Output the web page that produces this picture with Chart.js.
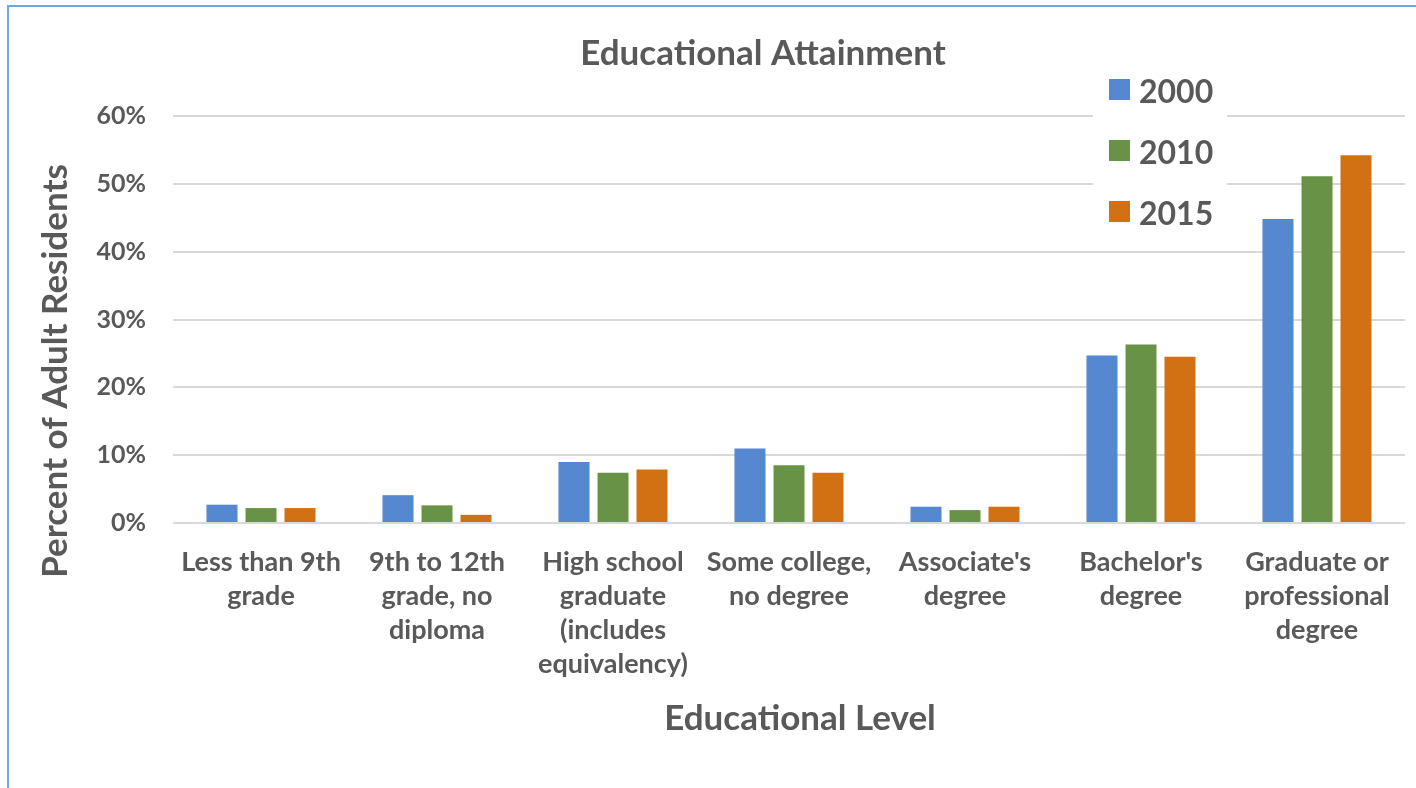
<!DOCTYPE html>
<html>
<head>
<meta charset="utf-8">
<script src="https://cdn.jsdelivr.net/npm/chart.js@4/dist/chart.umd.min.js"></script>
<style>
  html, body { margin: 0; padding: 0; background: #fff; }
  #grafico { display: block; }
</style>
</head>
<body>
<canvas id="grafico" width="1416" height="788"></canvas>
<script>
// categorias y valores (% de residentes adultos)
const niveles = [
    ["Less than 9th", "grade"],
    ["9th to 12th", "grade, no", "diploma"],
    ["High school", "graduate", "(includes", "equivalency)"],
    ["Some college,", "no degree"],
    ["Associate's", "degree"],
    ["Bachelor's", "degree"],
    ["Graduate or", "professional", "degree"]
];
const anios = ["2000", "2010", "2015"];
const valores2000 = [2.7, 4.1, 9.0, 11.0, 2.4, 24.7, 44.8];
const valores2010 = [2.2, 2.6, 7.4, 8.5, 1.9, 26.3, 51.1];
const valores2015 = [2.2, 1.2, 7.9, 7.4, 2.4, 24.5, 54.2];
const ticksY = [0, 10, 20, 30, 40, 50, 60];

const titulo = "Educational Attainment";
const tituloX = "Educational Level";
const tituloY = "Percent of Adult Residents";

const colores = ["#5588d1", "#689245", "#d27014"];
const gris = "#595959";
const fuente = "Lato, 'Open Sans', sans-serif";

// fondo y borde del marco
const marco = {
    id: "marco",
    beforeDraw(chart) {
        const ctx = chart.ctx;
        ctx.save();
        ctx.fillStyle = "#fff";
        ctx.fillRect(0, 0, chart.width, chart.height);
        ctx.strokeStyle = "#6fa8dc";
        ctx.lineWidth = 2;
        ctx.beginPath();
        ctx.moveTo(8, chart.height);
        ctx.lineTo(8, 6);
        ctx.lineTo(chart.width, 6);
        ctx.stroke();
        ctx.restore();
    }
};

// titulos (posicion como en el original, no centrados en el area)
const titulos = {
    id: "titulos",
    afterDraw(chart) {
        const ctx = chart.ctx;
        ctx.save();
        ctx.fillStyle = gris;
        ctx.textAlign = "center";
        ctx.textBaseline = "middle";
        ctx.font = "bold 35px " + fuente;
        ctx.fillText(titulo, 763, 54);
        ctx.fillText(tituloX, 800, 719);
        ctx.translate(56, 371);
        ctx.rotate(-Math.PI / 2);
        ctx.fillText(tituloY, 0, 0);
        ctx.restore();
    }
};

// leyenda dentro del area del grafico
const leyenda = {
    id: "leyenda",
    afterDraw(chart) {
        const ctx = chart.ctx;
        ctx.save();
        ctx.fillStyle = "#fff";
        ctx.fillRect(1093, 70, 134, 160);
        ctx.font = "bold 32px " + fuente;
        ctx.textBaseline = "middle";
        chart.data.datasets.forEach((ds, i) => {
            const y = 79 + i * 61;
            ctx.fillStyle = ds.backgroundColor;
            ctx.fillRect(1109, y, 21, 21);
            ctx.fillStyle = gris;
            ctx.fillText(ds.label, 1139, y + 14);
        });
        ctx.restore();
    }
};

new Chart(document.getElementById("grafico"), {
    type: "bar",
    data: {
        labels: niveles,
        datasets: [
            { label: anios[0], data: valores2000, backgroundColor: colores[0] },
            { label: anios[1], data: valores2010, backgroundColor: colores[1] },
            { label: anios[2], data: valores2015, backgroundColor: colores[2] }
        ]
    },
    options: {
        responsive: false,
        animation: false,
        devicePixelRatio: 1,
        categoryPercentage: 0.665,
        barPercentage: 0.795,
        layout: { padding: { left: 20, top: 116, right: 11, bottom: 40 } },
        plugins: {
            legend: { display: false },
            tooltip: { enabled: false },
            title: { display: false }
        },
        scales: {
            x: {
                grid: { display: false, drawTicks: false },
                border: { display: false },
                ticks: {
                    color: gris,
                    padding: 22,
                    maxRotation: 0,
                    autoSkip: false,
                    font: { family: fuente, size: 27, weight: "bold", lineHeight: 1.26 }
                },
                afterFit(scale) { scale.height = 225; }
            },
            y: {
                min: 0,
                max: 60,
                afterBuildTicks(scale) {
                    scale.ticks = ticksY.map(v => ({ value: v }));
                },
                grid: { color: "#d9d9d9", lineWidth: 2, drawTicks: false },
                border: { display: false },
                ticks: {
                    color: gris,
                    padding: 27,
                    font: { family: fuente, size: 25, weight: "bold" },
                    callback: v => v + "%"
                },
                afterFit(scale) { scale.width = 153; }
            }
        }
    },
    plugins: [marco, titulos, leyenda]
});
</script>
</body>
</html>
